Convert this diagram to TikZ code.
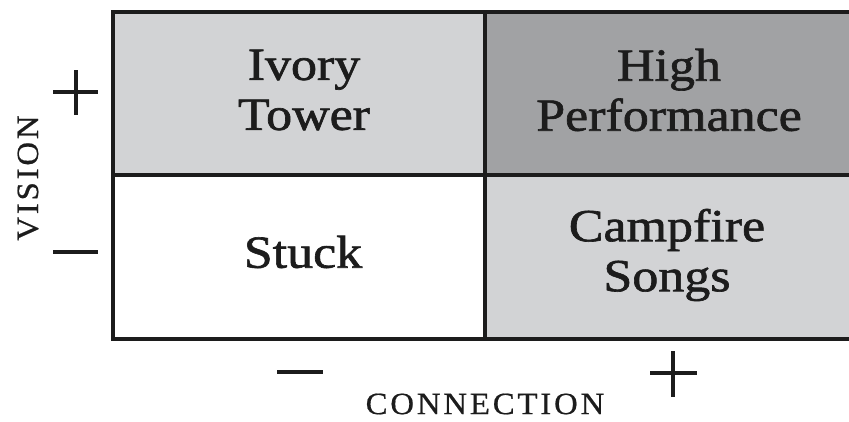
\documentclass[tikz,border=0pt]{standalone}
\usepackage{fontspec}
\setmainfont{Liberation Serif}
\newfontfamily\cellfont[FakeStretch=1.13,FakeBold=1.4]{Liberation Serif}
\newfontfamily\labfont[LetterSpace=9,FakeStretch=1.06,FakeBold=0.6]{Liberation Serif}
\definecolor{lightcell}{HTML}{D2D3D5}
\definecolor{darkcell}{HTML}{A1A2A4}
\definecolor{ink}{HTML}{1C1C1C}
\begin{document}
\begin{tikzpicture}[x=1pt,y=-1pt,
  border/.style={draw=ink,line width=4pt},
  sign/.style={draw=ink,line width=4pt},
  celltext/.style={align=center,text=ink,font=\cellfont\fontsize{46}{50}\selectfont,inner sep=0pt},
  axistext/.style={text=ink,font=\labfont\fontsize{31}{31}\selectfont,inner sep=0pt}]
\useasboundingbox (0,0) rectangle (849,421);
% cells
\fill[lightcell] (113,12) rectangle (485,175);
\fill[darkcell] (485,12) rectangle (849,175);
\fill[white] (113,175) rectangle (485,339);
\fill[lightcell] (485,175) rectangle (849,339);
% grid lines
\coordinate (tl) at (113,12);
\coordinate (tr) at (851,12);
\coordinate (bl) at (113,339);
\coordinate (br) at (851,339);
\coordinate (ml) at (113,175);
\coordinate (mr) at (851,175);
\coordinate (mt) at (485,12);
\coordinate (mb) at (485,339);
\draw[border] (tr) -- (tl) -- (bl) -- (br);
\draw[border] (ml) -- (mr);
\draw[border] (mt) -- (mb);
% cell texts
\node[celltext] (ivory) at (304,90) {Ivory\\Tower};
\node[celltext] (high) at (669,90) {High\\Performance};
\node[celltext] (stuck) at (303,252) {Stuck};
\node[celltext] (camp) at (667,255) {Campfire\\Songs};
% axis signs
\coordinate (vp1) at (53,92); \coordinate (vp2) at (98,92);
\coordinate (vp3) at (76,70); \coordinate (vp4) at (76,115);
\draw[sign] (vp1) -- (vp2); \draw[sign] (vp3) -- (vp4);
\coordinate (vm1) at (53,252); \coordinate (vm2) at (98,252);
\draw[sign] (vm1) -- (vm2);
\coordinate (cm1) at (277,372); \coordinate (cm2) at (323,372);
\draw[sign] (cm1) -- (cm2);
\coordinate (cp1) at (650,373); \coordinate (cp2) at (697,373);
\coordinate (cp3) at (673,351); \coordinate (cp4) at (673,397);
\draw[sign] (cp1) -- (cp2); \draw[sign] (cp3) -- (cp4);
% axis labels
\node[axistext,rotate=90] (vision) at (28,178) {VISION};
\node[axistext] (connection) at (485,404) {CONNECTION};
\end{tikzpicture}
\end{document}
